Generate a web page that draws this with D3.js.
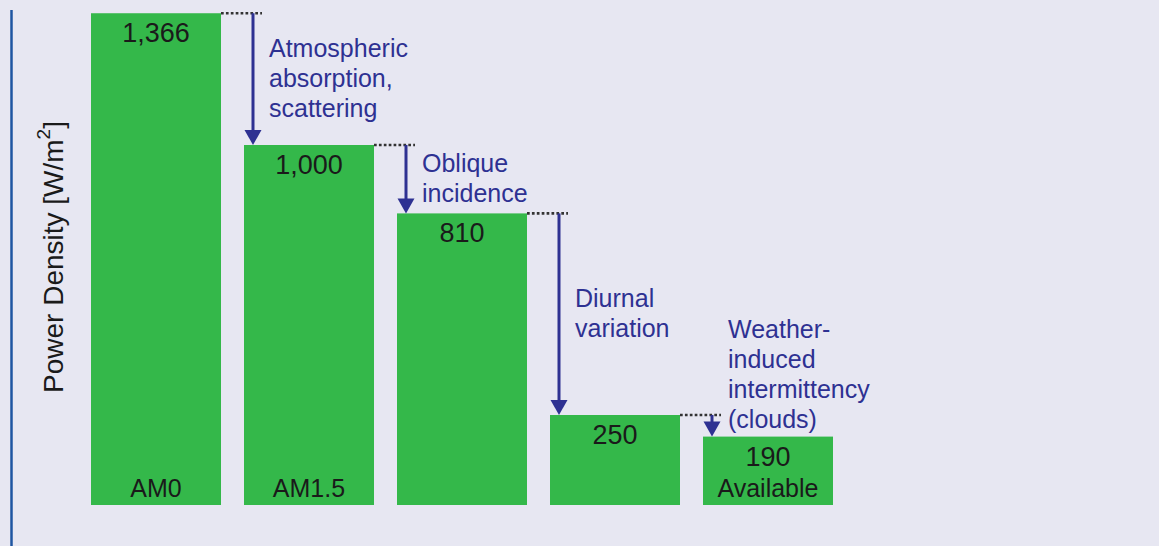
<!DOCTYPE html>
<html>
<head>
<meta charset="utf-8">
<script src="https://cdn.jsdelivr.net/npm/d3@7"></script>
<style>
    body { margin: 0; background: #e7e7f2; }
    svg { display: block; font-family: "Liberation Sans", Arial, sans-serif; }
</style>
</head>
<body>
<div class="data_figure"></div>
<script>
// chart values
const categories = ["AM0", "AM1.5", "", "", "Available"];
const values = [1366, 1000, 810, 250, 190];
const lossLabels = [
    ["Atmospheric", "absorption,", "scattering"],
    ["Oblique", "incidence"],
    ["Diurnal", "variation"],
    ["Weather-", "induced", "intermittency", "(clouds)"]
];

const width = 1159;
const height = 546;

const barColor = "#34b84a",
      arrowColor = "#2e3192",
      axisLineColor = "#1f56a2";

const lineH = 30;

const svg = d3.select(".data_figure")
    .append("svg")
    .attr("width", width)
    .attr("height", height);

svg.append("rect")
    .attr("width", width)
    .attr("height", height)
    .attr("fill", "#e7e7f2");

const xScale = d3.scaleBand()
    .domain(d3.range(values.length))
    .range([91, 91 + 742])
    .paddingInner(23 / 153)
    .paddingOuter(0);

const yScale = d3.scaleLinear()
    .domain([0, 1400])
    .range([505, 1]);

const bw = xScale.bandwidth();
const fmt = d3.format(",");

// left rule
svg.append("line")
    .attr("x1", 11.5).attr("x2", 11.5)
    .attr("y1", 10).attr("y2", height)
    .attr("stroke", axisLineColor)
    .attr("stroke-width", 2.5);

// y title
const yTitle = svg.append("text")
    .attr("transform", "translate(63," + 257 + ") rotate(-90)")
    .attr("text-anchor", "middle")
    .attr("fill", "#1a1a1a")
    .style("font-size", "28px");
yTitle.append("tspan").text("Power Density [W/m");
yTitle.append("tspan").text("2").attr("dy", -13).style("font-size", "19px");
yTitle.append("tspan").text("]").attr("dy", 13);

// bars
svg.selectAll(".bar")
    .data(values)
    .enter()
    .append("rect")
    .attr("class", "bar")
    .attr("x", (d, i) => xScale(i))
    .attr("y", (d) => yScale(d))
    .attr("width", bw)
    .attr("height", (d) => yScale(0) - yScale(d))
    .attr("fill", barColor);

svg.selectAll(".valueLabel")
    .data(values)
    .enter()
    .append("text")
    .attr("class", "valueLabel")
    .attr("x", (d, i) => xScale(i) + bw / 2)
    .attr("y", (d) => yScale(d) + 29)
    .attr("text-anchor", "middle")
    .attr("fill", "#1a1a1a")
    .style("font-size", "27px")
    .text((d) => fmt(d));

svg.selectAll(".catLabel")
    .data(categories)
    .enter()
    .append("text")
    .attr("class", "catLabel")
    .attr("x", (d, i) => xScale(i) + bw / 2)
    .attr("y", yScale(0) - 8)
    .attr("text-anchor", "middle")
    .attr("fill", "#1a1a1a")
    .style("font-size", "25px")
    .text((d) => d);

// loss arrows
const steps = lossLabels.map((lines, i) => {
    const ax = xScale(i) + bw + 32;
    const y0 = yScale(values[i]);
    const y1 = yScale(values[i + 1]);
    return { lines: lines, ax: ax, y0: y0, y1: y1, x0: xScale(i) + bw };
});

steps.forEach((s) => {
    svg.append("line")
        .attr("x1", s.x0).attr("x2", s.ax + 9)
        .attr("y1", s.y0).attr("y2", s.y0)
        .attr("stroke", "#333")
        .attr("stroke-width", 2.7)
        .attr("stroke-dasharray", "2.7,2.2");

    const headH = 15, headW = 8.5;
    svg.append("line")
        .attr("x1", s.ax).attr("x2", s.ax)
        .attr("y1", s.y0).attr("y2", s.y1 - headH + 1)
        .attr("stroke", arrowColor)
        .attr("stroke-width", 3);
    svg.append("path")
        .attr("d", "M" + (s.ax - headW) + "," + (s.y1 - headH) +
                   "L" + (s.ax + headW) + "," + (s.y1 - headH) +
                   "L" + s.ax + "," + s.y1 + "Z")
        .attr("fill", arrowColor);

    const n = s.lines.length;
    let first = (s.y0 + s.y1) / 2 - (n - 1) * lineH / 2 + 8;
    const lastMax = s.y1 - 9;
    if (first + (n - 1) * lineH > lastMax) first = lastMax - (n - 1) * lineH;

    const t = svg.append("text")
        .attr("fill", arrowColor)
        .style("font-size", "25px");
    s.lines.forEach((line, k) => {
        t.append("tspan")
            .attr("x", s.ax + 16)
            .attr("y", first + k * lineH)
            .text(line);
    });
});
</script>
</body>
</html>
